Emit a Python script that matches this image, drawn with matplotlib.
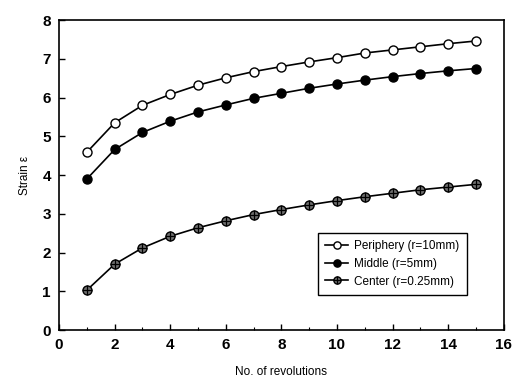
import matplotlib.pyplot as plt
import numpy as np
from matplotlib.ticker import MultipleLocator

# data
revolutions = np.arange(1, 16)
periphery = [4.59, 5.35, 5.80, 6.08, 6.32, 6.51, 6.67, 6.80, 6.92, 7.03, 7.15, 7.23, 7.31, 7.39, 7.46]
middle = [3.90, 4.66, 5.10, 5.39, 5.63, 5.81, 5.98, 6.11, 6.24, 6.35, 6.45, 6.54, 6.62, 6.69, 6.75]
center = [1.03, 1.70, 2.12, 2.42, 2.64, 2.82, 2.98, 3.11, 3.23, 3.34, 3.44, 3.53, 3.62, 3.69, 3.76]

fig = plt.figure(figsize=(5.14, 3.86), dpi=100)
ax = fig.add_axes([0.115, 0.145, 0.865, 0.803])

p1, = ax.plot(revolutions, periphery, color='black', lw=1.2, marker='o', ms=6.5,
              mfc='white', mec='black', mew=1.0)
p2, = ax.plot(revolutions, middle, color='black', lw=1.2, marker='o', ms=6.5,
              mfc='black', mec='black')
p3, = ax.plot(revolutions, center, color='black', lw=1.2, marker='o', ms=6.5,
              mfc='#707070', mec='black', mew=1.0)
# cross inside the center markers
p3x, = ax.plot(revolutions, center, ls='none', marker='+', ms=6.5, mec='black', mew=0.9)

ax.set_xlim(0, 16)
ax.set_ylim(0, 8)
ax.xaxis.set_major_locator(MultipleLocator(2))
ax.xaxis.set_minor_locator(MultipleLocator(1))
ax.yaxis.set_major_locator(MultipleLocator(1))
ax.tick_params(which='major', direction='in', length=4, width=1.0, labelsize=11, pad=6)
ax.tick_params(which='minor', direction='in', length=2, width=0.8)
for lbl in ax.get_xticklabels() + ax.get_yticklabels():
    lbl.set_fontweight('bold')
    lbl.set_fontfamily('Liberation Sans')
for s in ax.spines.values():
    s.set_linewidth(1.2)

ax.set_xlabel('No. of revolutions', fontsize=8.5, family='Liberation Sans', labelpad=10)
ax.set_ylabel('Strain ε', fontsize=8.5, family='Liberation Sans', labelpad=8)

leg = ax.legend([p1, p2, (p3, p3x)],
                ['Periphery (r=10mm)', 'Middle (r=5mm)', 'Center (r=0.25mm)'],
                loc='lower right', bbox_to_anchor=(0.93, 0.095),
                frameon=True, fancybox=False, edgecolor='black', framealpha=1,
                handlelength=2.0, borderpad=0.6, labelspacing=0.5, markerscale=0.8,
                handletextpad=0.5, prop={'family': 'Liberation Sans', 'size': 8.5})
leg.get_frame().set_linewidth(1.0)

fig.savefig('out.png', dpi=100)
